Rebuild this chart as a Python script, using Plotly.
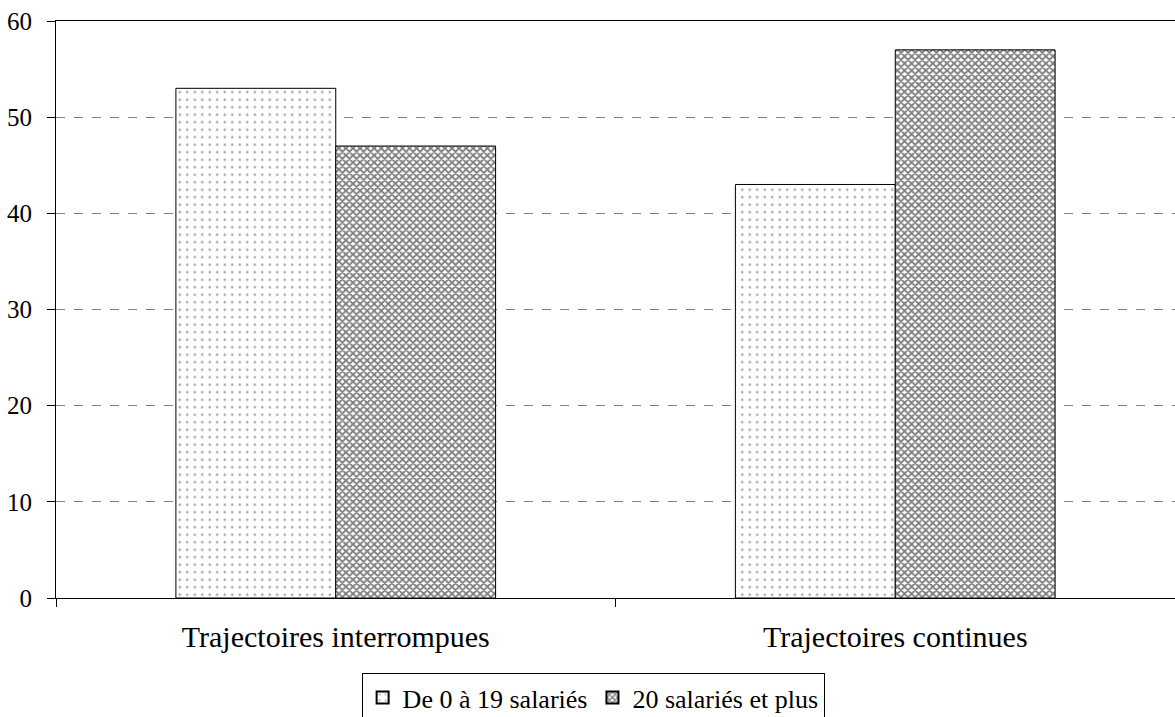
import plotly.graph_objects as go

categories = ["Trajectoires interrompues", "Trajectoires continues"]
series_names = ["De 0 à 19 salariés", "20 salariés et plus"]
small_firms = [53, 43]
large_firms = [47, 57]
y_ticks = [0, 10, 20, 30, 40, 50, 60]

FONT = "Liberation Serif"

fig = go.Figure()
fig.add_trace(go.Bar(
    name=series_names[0], x=categories, y=small_firms,
    marker=dict(color="white", line=dict(color="black", width=1),
                pattern=dict(shape=".", fgcolor="#555555", bgcolor="white",
                             size=7.5, solidity=0.1)),
))
fig.add_trace(go.Bar(
    name=series_names[1], x=categories, y=large_firms,
    marker=dict(color="white", line=dict(color="black", width=1),
                pattern=dict(shape="x", fgcolor="#000000", bgcolor="white",
                             size=5, solidity=0.6)),
))

fig.update_layout(
    width=1175, height=717,
    margin=dict(l=56, r=0, t=21, b=119, autoexpand=False),
    paper_bgcolor="white", plot_bgcolor="white",
    barmode="group", bargap=0.4286, bargroupgap=0,
    font=dict(family=FONT, size=25, color="black"),
    showlegend=True,
    legend=dict(orientation="h", x=0.48, xanchor="center", y=-0.13, yanchor="top",
                bordercolor="black", borderwidth=1, bgcolor="white",
                font=dict(family=FONT, size=26), itemwidth=30,
                tracegroupgap=0, itemsizing="constant"),
    xaxis=dict(range=[-0.5, 1.5], showline=True, linecolor="black", linewidth=1,
               mirror=True, ticks="outside", tickson="boundaries", ticklen=8,
               tickcolor="black", showgrid=False, ticklabelstandoff=12,
               automargin=False, tickfont=dict(family=FONT, size=30)),
    yaxis=dict(range=[0, 60], tickvals=y_ticks, showline=True, linecolor="black",
               linewidth=1, ticks="outside", ticklen=8, tickcolor="black",
               showgrid=True, gridcolor="#808080", griddash="dash", gridwidth=1,
               zeroline=False, ticklabelstandoff=10, automargin=False,
               tickfont=dict(family=FONT, size=25)),
)

fig.write_html("out.html")
